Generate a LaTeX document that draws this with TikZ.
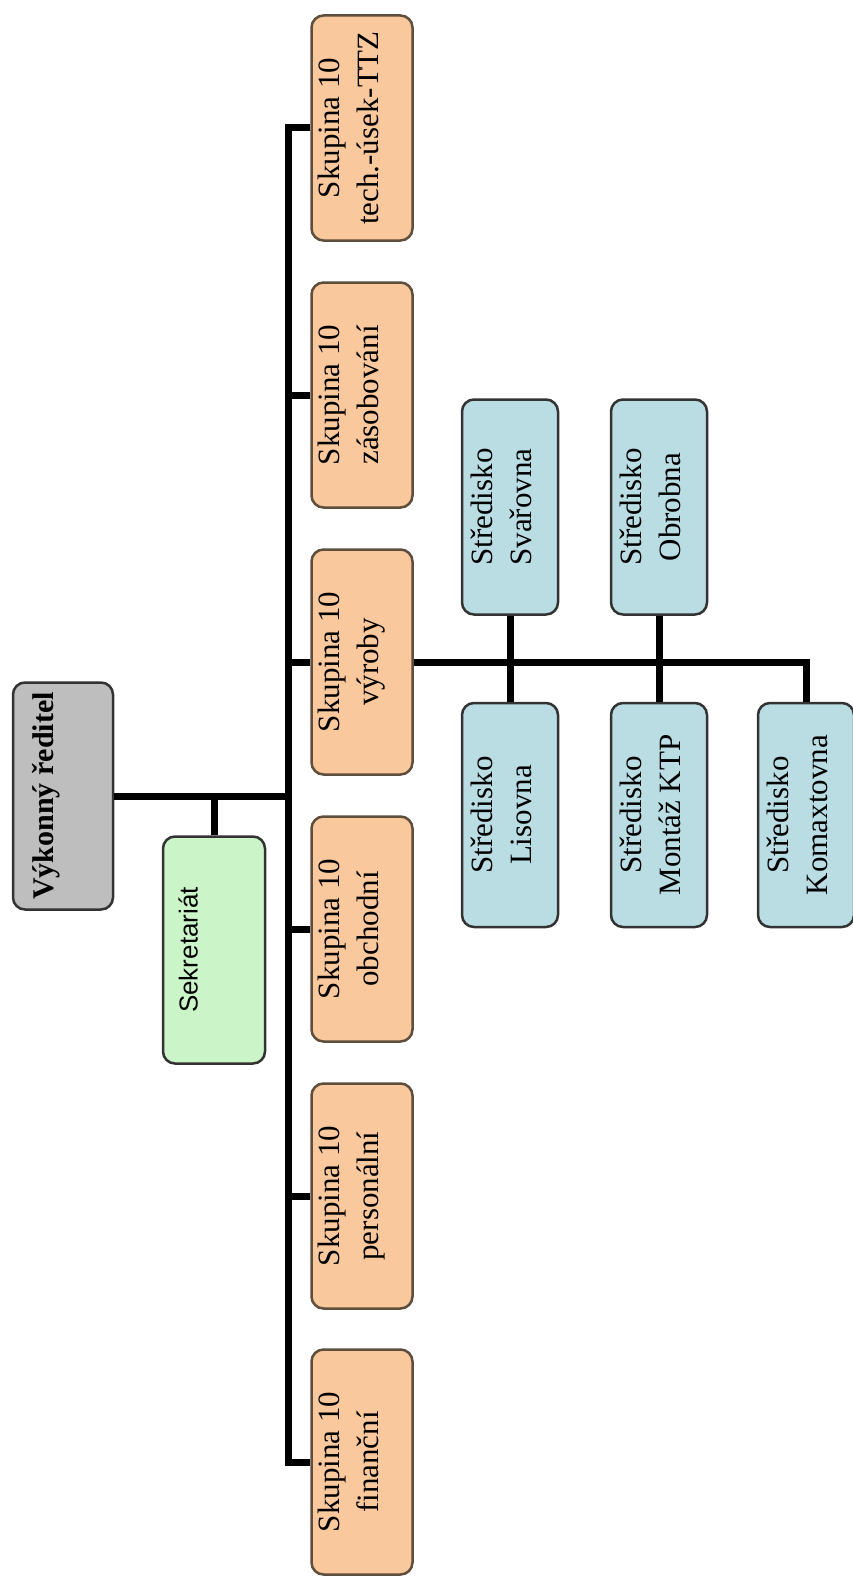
\documentclass[tikz,border=0pt]{standalone}
\usepackage{fontspec}
\setmainfont{Liberation Serif}
\newfontfamily\arialfont{Liberation Sans}
\usetikzlibrary{positioning}
\definecolor{headc}{HTML}{BEBEBE}
\definecolor{secc}{HTML}{CBF5C9}
\definecolor{grpc}{HTML}{F9C89C}
\definecolor{grpl}{HTML}{5E4E3C}
\definecolor{ctrc}{HTML}{B9DDE3}
\tikzset{
  unit/.style={draw=black!80,line width=2.5pt,rounded corners=12pt,rotate=90,align=center,inner sep=0pt},
  headbox/.style={unit,fill=headc,minimum width=227pt,minimum height=100pt,font=\fontsize{30}{38}\selectfont\bfseries,text height=21pt,text depth=41pt},
  secbox/.style={unit,fill=secc,minimum width=227pt,minimum height=102pt,font=\arialfont\fontsize{26}{32}\selectfont,text height=19pt,text depth=52pt},
  grpbox/.style={unit,draw=grpl,fill=grpc,minimum width=225pt,minimum height=101pt,font=\fontsize{31}{39}\selectfont,text height=60pt,text depth=27pt},
  ctrbox/.style={unit,fill=ctrc,minimum height=96pt,font=\fontsize{31}{39}\selectfont,text height=60pt,text depth=17pt},
  ln/.style={draw=black,line width=7pt},
}
\begin{document}
\begin{tikzpicture}[x=1pt,y=-1pt]
\useasboundingbox[fill=white] (0,0) rectangle (853,1576);
% top level
\node[headbox] (ceo) at (63,796) {Výkonný ředitel};
\node[secbox] (sek) at (214,950) {Sekretariát};
\coordinate (trunk) at (288,0);
% groups
\node[grpbox] (g1) at (362,128) {Skupina 10\\tech.-úsek-TTZ};
\node[grpbox] (g2) at (362,395) {Skupina 10\\zásobování};
\node[grpbox] (g3) at (362,662) {Skupina 10\\výroby};
\node[grpbox] (g4) at (362,929) {Skupina 10\\obchodní};
\node[grpbox] (g5) at (362,1196) {Skupina 10\\personální};
\node[grpbox] (g6) at (362,1462) {Skupina 10\\finanční};
% centres
\node[ctrbox,minimum width=215pt] (svar) at (510,507) {Středisko\\Svařovna};
\node[ctrbox,minimum width=215pt] (obr) at (659,507) {Středisko\\Obrobna};
\node[ctrbox,minimum width=224pt] (lis) at (510,815) {Středisko\\Lisovna};
\node[ctrbox,minimum width=224pt] (mont) at (659,815) {Středisko\\Montáž KTP};
\node[ctrbox,minimum width=224pt] (komax) at (806,815) {Středisko\\Komaxtovna};
% connectors
\draw[ln] (ceo.south) -- (ceo.south -| trunk);
\draw[ln] (sek.east) -- (sek.east |- ceo);
\draw[ln] (g1.north) -| (g6.north -| trunk) -- (g6.north);
\foreach \g in {g2,g3,g4,g5}
  \draw[ln] (\g.north) -- (\g.north -| trunk);
\draw[ln] (g3.south) -| (komax.east);
\draw[ln] (svar.west) -- (lis.east);
\draw[ln] (obr.west) -- (mont.east);
\end{tikzpicture}
\end{document}
